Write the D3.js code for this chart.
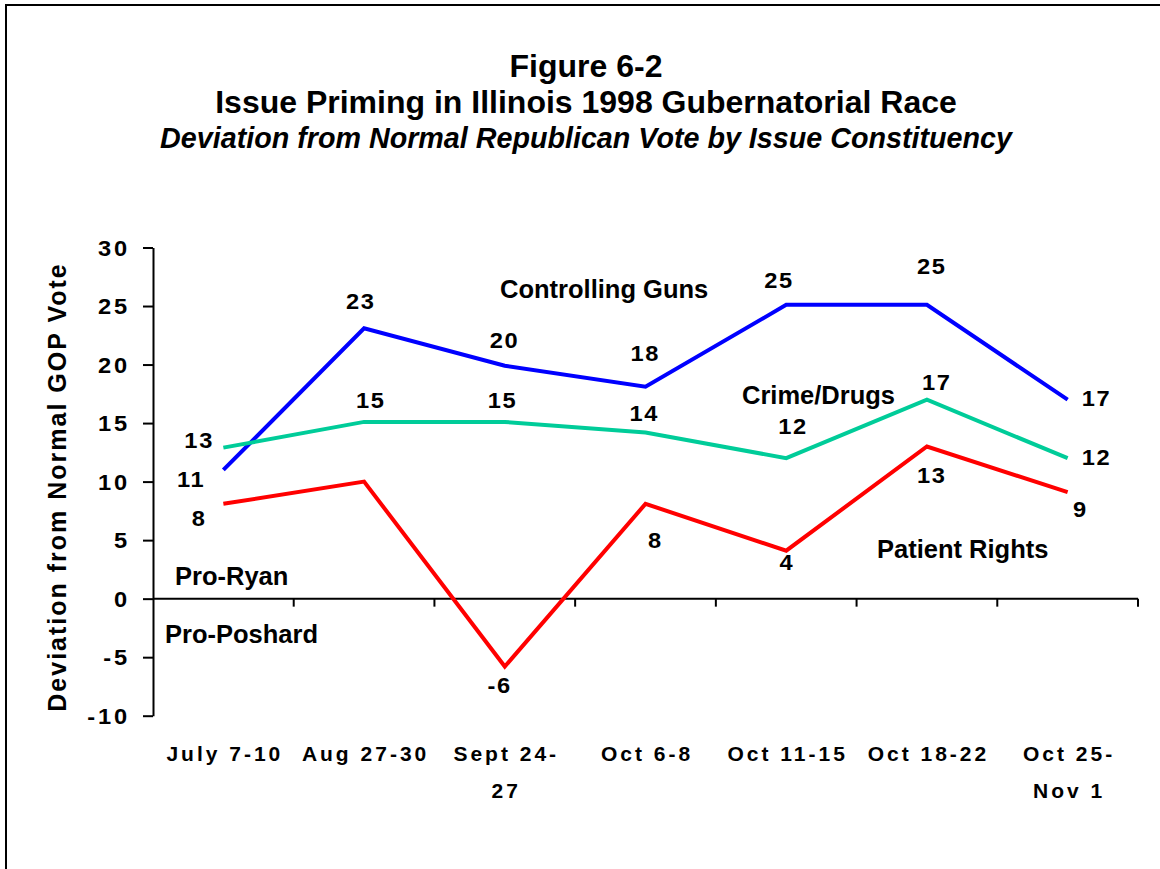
<!DOCTYPE html>
<html>
<head>
<meta charset="utf-8">
<script src="https://cdn.jsdelivr.net/npm/d3@7"></script>
<style>
  html, body { margin: 0; padding: 0; background: #fff; }
  svg { display: block; font-family: Arial, "Liberation Sans", sans-serif; }
</style>
</head>
<body>
<svg id="chart" width="1160" height="869"></svg>
<script>
// ---- data ----
const categories = ["July 7-10", "Aug 27-30", "Sept 24-27", "Oct 6-8", "Oct 11-15", "Oct 18-22", "Oct 25-Nov 1"];
const categoryLines = [["July 7-10"], ["Aug 27-30"], ["Sept 24-", "27"], ["Oct 6-8"], ["Oct 11-15"], ["Oct 18-22"], ["Oct 25-", "Nov 1"]];
const seriesNames = ["Controlling Guns", "Crime/Drugs", "Patient Rights"];
const gunsValues = [11, 23.1, 19.9, 18.1, 25.1, 25.1, 17];
const crimeValues = [12.9, 15.1, 15.1, 14.2, 12, 17, 12];
const patientValues = [8.1, 10, -5.8, 8.1, 4.1, 13, 9.1];
const gunsLabels = ["11", "23", "20", "18", "25", "25", "17"];
const crimeLabels = ["13", "15", "15", "14", "12", "17", "12"];
const patientLabels = ["8", null, "-6", "8", "4", "13", "9"];
const yTicks = [-10, -5, 0, 5, 10, 15, 20, 25, 30];

// ---- layout (label offsets from their points: [dx, dy to baseline]) ----
const gunsOffsets = [[-33, 17], [-4, -19], [-1, -18], [-1, -26], [-8, -17], [4, -31], [28, 6]];
const crimeOffsets = [[-25, 0], [6, -14], [-3, -14], [-2, -11], [6, -24], [9, -10], [28, 7]];
const patientOffsets = [[-25, 22], null, [-6, 26], [9, 44], [0, 19], [4, 37], [12, 25]];

const colors = ["#0000FF", "#00CC99", "#FF0000"];
const series = [
  { name: seriesNames[0], values: gunsValues, labels: gunsLabels, offsets: gunsOffsets, color: colors[0] },
  { name: seriesNames[1], values: crimeValues, labels: crimeLabels, offsets: crimeOffsets, color: colors[1] },
  { name: seriesNames[2], values: patientValues, labels: patientLabels, offsets: patientOffsets, color: colors[2] }
];

const svg = d3.select("#chart");

// frame
svg.append("rect").attr("x", 6).attr("y", 5).attr("width", 1200).attr("height", 900)
  .attr("fill", "none").attr("stroke", "#000").attr("stroke-width", 2);

// titles
const tcx = 586;
svg.append("text").attr("x", tcx).attr("y", 77).attr("text-anchor", "middle")
  .attr("font-size", 32).attr("font-weight", "bold").text("Figure 6-2");
svg.append("text").attr("x", tcx).attr("y", 113).attr("text-anchor", "middle")
  .attr("font-size", 32).attr("font-weight", "bold").text("Issue Priming in Illinois 1998 Gubernatorial Race");
svg.append("text").attr("x", tcx).attr("y", 148).attr("text-anchor", "middle")
  .attr("font-size", 28.7).attr("font-weight", "bold").attr("font-style", "italic")
  .text("Deviation from Normal Republican Vote by Issue Constituency");

// scales
const x = d3.scaleBand().domain(categories).range([153, 1138]).padding(0);
const y = d3.scaleLinear().domain([-10, 30]).range([715.7, 247.5]);
const cx = c => x(c) + x.bandwidth() / 2;

// y axis
const yAxis = svg.append("g").attr("transform", "translate(153,0)")
  .call(d3.axisLeft(y).tickValues(yTicks).tickSize(10).tickSizeOuter(0).tickFormat(d => String(d)));
yAxis.select(".domain").attr("stroke", "#000").attr("stroke-width", 2);
yAxis.selectAll(".tick line").attr("stroke", "#000").attr("stroke-width", 2);
yAxis.selectAll(".tick text")
  .attr("x", 0).attr("dy", null).attr("y", 0)
  .attr("transform", "translate(-23.2,7.5) scale(1.1,1)")
  .attr("font-size", 21.5).attr("font-weight", "bold").attr("letter-spacing", 2.5)
  .attr("fill", "#000").attr("font-family", "Arial, 'Liberation Sans', sans-serif");

// y axis title
svg.append("text")
  .attr("transform", `translate(66,${(258 + 716) / 2}) rotate(-90)`)
  .attr("text-anchor", "middle").attr("font-size", 25).attr("font-weight", "bold")
  .attr("letter-spacing", 2).text("Deviation from Normal GOP Vote");

// x axis (at zero)
const y0 = y(0);
svg.append("line").attr("x1", 153).attr("x2", 1138).attr("y1", y0).attr("y2", y0)
  .attr("stroke", "#000").attr("stroke-width", 2);
svg.append("g").selectAll("line").data(categories).join("line")
  .attr("x1", d => x(d) + x.bandwidth()).attr("x2", d => x(d) + x.bandwidth())
  .attr("y1", y0).attr("y2", y0 + 8).attr("stroke", "#000").attr("stroke-width", 2);

// x category labels
const xl = svg.append("g");
categories.forEach((c, i) => {
  categoryLines[i].forEach((ln, j) => {
    xl.append("text").attr("x", cx(c) + 1.5).attr("y", 761 + j * 37)
      .attr("text-anchor", "middle").attr("font-size", 21).attr("font-weight", "bold")
      .attr("letter-spacing", 3).text(ln);
  });
});

// lines
const line = d3.line().x((d, i) => cx(categories[i])).y(d => y(d));
series.forEach(s => {
  svg.append("path").datum(s.values).attr("d", line)
    .attr("fill", "none").attr("stroke", s.color).attr("stroke-width", 4)
    .attr("stroke-linejoin", "miter");
});

// value labels
series.forEach(s => {
  s.values.forEach((v, i) => {
    if (s.labels[i] == null) return;
    const o = s.offsets[i];
    const lx = cx(categories[i]) + o[0] + 0.8;
    const ly = y(v) + o[1];
    svg.append("text").attr("transform", `translate(${lx},${ly}) scale(1.1,1)`)
      .attr("text-anchor", "middle").attr("font-size", 21.5).attr("font-weight", "bold")
      .attr("letter-spacing", 1.5).text(s.labels[i]);
  });
});

// annotations
const ann = [
  { t: seriesNames[0], x: 500, y: 298 },
  { t: seriesNames[1], x: 742, y: 404 },
  { t: seriesNames[2], x: 877, y: 558 },
  { t: "Pro-Ryan", x: 175, y: 585 },
  { t: "Pro-Poshard", x: 165, y: 643 }
];
ann.forEach(a => {
  svg.append("text").attr("x", a.x).attr("y", a.y).attr("font-size", 25.5)
    .attr("font-weight", "bold").text(a.t);
});
</script>
</body>
</html>
